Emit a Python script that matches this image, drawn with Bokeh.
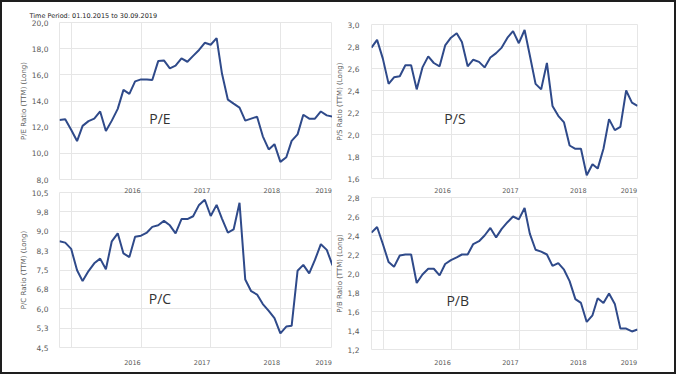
import pandas as pd
from bokeh.plotting import figure
from bokeh.layouts import row, column
from bokeh.models import FixedTicker, LinearAxis, Label, Range1d
from bokeh.embed import file_html
from bokeh.resources import INLINE

# ---------------- data ----------------
months = pd.date_range("2015-10-01", periods=48, freq="MS") + pd.offsets.MonthEnd(0)
x_ms = [int(t.value // 10**6) for t in months]

pe = [12.55, 12.6, 11.8, 10.94, 12.1, 12.46, 12.65, 13.2, 11.7, 12.5, 13.4, 14.85,
      14.55, 15.5, 15.65, 15.65, 15.6, 17.05, 17.1, 16.5, 16.7, 17.25, 17.0, 17.45,
      17.9, 18.45, 18.3, 18.8, 16.1, 14.1, 13.8, 13.5, 12.5, 12.65, 12.8, 11.3,
      10.3, 10.7, 9.35, 9.7, 10.95, 11.45, 12.95, 12.65, 12.65, 13.2, 12.9, 12.8]
ps = [2.79, 2.86, 2.69, 2.46, 2.52, 2.53, 2.63, 2.63, 2.41, 2.61, 2.71, 2.65,
      2.62, 2.81, 2.88, 2.92, 2.84, 2.62, 2.68, 2.66, 2.61, 2.70, 2.74, 2.79,
      2.88, 2.94, 2.83, 2.95, 2.72, 2.46, 2.41, 2.65, 2.26, 2.17, 2.11, 1.90,
      1.87, 1.87, 1.63, 1.73, 1.69, 1.87, 2.14, 2.04, 2.07, 2.40, 2.29, 2.26]
pc = [8.61, 8.56, 8.32, 7.49, 7.07, 7.46, 7.76, 7.94, 7.53, 8.61, 8.92, 8.14,
      8.0, 8.79, 8.83, 8.95, 9.17, 9.23, 9.40, 9.23, 8.92, 9.47, 9.47, 9.58,
      10.02, 10.22, 9.59, 10.02, 9.49, 8.95, 9.07, 10.1, 7.13, 6.68, 6.55, 6.18,
      5.92, 5.64, 5.05, 5.31, 5.34, 7.47, 7.70, 7.37, 7.89, 8.50, 8.28, 7.68]
pb = [2.43, 2.49, 2.31, 2.12, 2.07, 2.19, 2.20, 2.20, 1.90, 1.99, 2.05, 2.05,
      1.98, 2.10, 2.14, 2.17, 2.20, 2.20, 2.31, 2.34, 2.40, 2.48, 2.38, 2.47,
      2.54, 2.60, 2.57, 2.69, 2.42, 2.25, 2.23, 2.20, 2.08, 2.11, 2.04, 1.92,
      1.73, 1.69, 1.49, 1.56, 1.74, 1.69, 1.79, 1.68, 1.42, 1.42, 1.39, 1.41]

years = [2016, 2017, 2018, 2019]
year_labels = ["2016", "2017", "2018", "2019"]

pe_ticks = [8, 10, 12, 14, 16, 18, 20]
pe_labels = ["8,0", "10,0", "12,0", "14,0", "16,0", "18,0", "20,0"]
ps_ticks = [1.6, 1.8, 2.0, 2.2, 2.4, 2.6, 2.8, 3.0]
ps_labels = ["1,6", "1,8", "2,0", "2,2", "2,4", "2,6", "2,8", "3,0"]
pc_ticks = [4.5, 5.25, 6.0, 6.75, 7.5, 8.25, 9.0, 9.75, 10.5]
pc_labels = ["4,5", "5,3", "6,0", "6,8", "7,5", "8,3", "9,0", "9,8", "10,5"]
pb_ticks = [1.2, 1.4, 1.6, 1.8, 2.0, 2.2, 2.4, 2.6, 2.8]
pb_labels = ["1,2", "1,4", "1,6", "1,8", "2,0", "2,2", "2,4", "2,6", "2,8"]

titles = ["P/E", "P/S", "P/C", "P/B"]
ylabels = ["P/E Ratio (TTM) (Long)", "P/S Ratio (TTM) (Long)",
           "P/C Ratio (TTM) (Long)", "P/B Ratio (TTM) (Long)"]
period_text = "Time Period: 01.10.2015 to 30.09.2019"

# ---------------- helpers ----------------
DAY = 86400000
jan_ticks = [int(pd.Timestamp(f"{y}-01-01").value // 10**6) for y in years]
lab_ticks = []
for y in years:
    end = min(int(pd.Timestamp(f"{y + 1}-01-01").value // 10**6), x_ms[-1])
    lab_ticks.append(end - 46 * DAY)
lab_over = {t: s for t, s in zip(lab_ticks, year_labels)}


def at(i):
    i0 = int(i)
    f = i - i0
    return x_ms[i0] + f * (x_ms[i0 + 1] - x_ms[i0])


GRID = "#e6e6e6"
LINE = "#2f4a8a"
FONT = "DejaVu Sans"
TICKC = "#5a5a5a"


def style_xaxis(ax, standoff):
    ax.ticker = FixedTicker(ticks=lab_ticks)
    ax.major_label_overrides = lab_over
    ax.major_tick_line_color = None
    ax.minor_tick_line_color = None
    ax.axis_line_color = None
    ax.major_label_text_font = FONT
    ax.major_label_text_font_size = "6.5px"
    ax.major_label_text_color = TICKC
    ax.major_label_standoff = standoff


def make_fig(vals, ylo, yhi, yt, yl, ylab, w, h, bl, br, bt, bb, lstand):
    p = figure(width=w, height=h, x_range=Range1d(x_ms[0], x_ms[-1]),
               y_range=Range1d(ylo, yhi), output_backend="svg",
               toolbar_location=None, min_border_left=bl, min_border_right=br,
               min_border_top=bt, min_border_bottom=bb)
    p.background_fill_color = "white"
    p.border_fill_color = "white"
    p.outline_line_color = GRID
    p.xgrid.ticker = FixedTicker(ticks=jan_ticks)
    p.xgrid.grid_line_color = GRID
    yax = p.yaxis[0]
    yax.ticker = FixedTicker(ticks=yt)
    p.ygrid.ticker = FixedTicker(ticks=yt)
    p.ygrid.grid_line_color = GRID
    yax.major_label_overrides = {t: s for t, s in zip(yt, yl)}
    yax.major_tick_line_color = None
    yax.minor_tick_line_color = None
    yax.axis_line_color = None
    yax.major_label_text_font = FONT
    yax.major_label_text_font_size = "7.5px"
    yax.major_label_text_color = TICKC
    yax.major_label_standoff = lstand
    yax.axis_label = ylab
    yax.axis_label_text_font = FONT
    yax.axis_label_text_font_size = "7px"
    yax.axis_label_text_font_style = "normal"
    yax.axis_label_text_color = TICKC
    yax.axis_label_standoff = 1
    p.line(x_ms, vals, line_color=LINE, line_width=2)
    return p


# top-left
tl = make_fig(pe, 8, 20, pe_ticks, pe_labels, ylabels[0], 330, 182, 57, 0, 20, 5, 5)
tl.xaxis.visible = False
tl.title.text = period_text
tl.title.text_font = FONT
tl.title.text_font_size = "6.5px"
tl.title.text_font_style = "normal"
tl.title.text_color = "#222222"
tl.title.align = "left"
tl.title.offset = -30
tl.title.standoff = 5

# top-right
tr = make_fig(ps, 1.6, 3.0, ps_ticks, ps_labels, ylabels[1], 342, 182, 30, 37, 22, 6, 6)
tr.xaxis.visible = False

# bottom-left
bl = make_fig(pc, 4.5, 10.5, pc_ticks, pc_labels, ylabels[2], 330, 188, 57, 0, 5, 25, 5)
style_xaxis(bl.xaxis[0], 6)
top_bl = LinearAxis()
style_xaxis(top_bl, -6)
bl.add_layout(top_bl, "above")

# bottom-right
br = make_fig(pb, 1.2, 2.8, pb_ticks, pb_labels, ylabels[3], 342, 188, 30, 37, 8, 23, 6)
style_xaxis(br.xaxis[0], 4)
top_br = LinearAxis()
style_xaxis(top_br, -1)
br.add_layout(top_br, "above")

# panel name labels
label_pos = [(tl, 17.3, 12.7), (tr, 14.7, 2.15), (bl, 17.3, 6.39), (br, 15.2, 1.72)]
for (fig, i, yv), name in zip(label_pos, titles):
    fig.add_layout(Label(x=at(i), y=yv, text=name, text_align="center",
                         text_baseline="middle", text_font="Open Sans",
                         text_font_size="14px", text_color="#333333"))

layout = row(column(tl, bl), column(tr, br),
             styles={"border": "2px solid #1e1e1e"})

open("out.html", "w").write(file_html(layout, INLINE))
